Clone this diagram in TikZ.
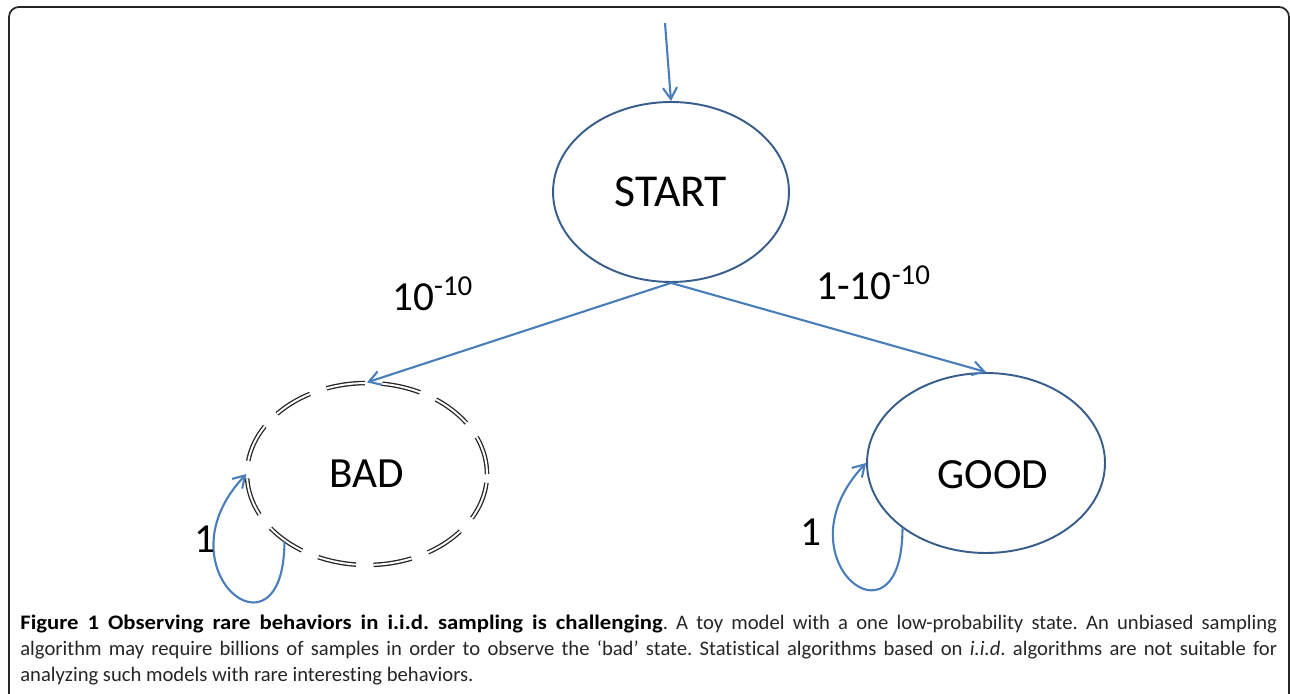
\documentclass[tikz,border=0pt]{standalone}
\usepackage{fontspec}
\setmainfont{Carlito}
\newfontfamily\capfont{Carlito}[Ligatures=NoCommon, BoldFeatures={FakeStretch=1.1}]
\usetikzlibrary{shapes.geometric, arrows.meta}
\definecolor{edgeblue}{HTML}{4A7EBB}
\definecolor{rimblue}{HTML}{385D8A}
\frenchspacing

\begin{document}
\begin{tikzpicture}[x=0.02cm, y=0.02cm,
    state/.style={ellipse, draw=rimblue, line width=1.1pt, inner sep=0pt,
        minimum width=4.72cm, minimum height=3.6cm, font=\fontsize{24.5}{28}\selectfont},
    badstate/.style={state, draw=black!85, line width=0.75pt, double, double distance=1.1pt,
        dash pattern=on 22pt off 10pt},
    arrow/.style={draw=edgeblue, line width=1.2pt, -{Straight Barb[length=6.5pt, width=8pt]}},
    problabel/.style={inner sep=0pt, font=\fontsize{23.5}{28}\selectfont},
    caption/.style={inner sep=0pt, text width=25.14cm, align=justify, text=black!85,
        font=\capfont\fontsize{11.75}{14.7}\selectfont}]
    \useasboundingbox (0, 0) rectangle (1290, 693);
    \draw[line width=1pt, black!85, rounded corners=0.2cm] (9, -20) rectangle (1289, 686);
    \node[state, font=\fontsize{26}{30}\selectfont] (start) at (671, 501) {START};
    \node[badstate, minimum width=4.8cm, minimum height=3.64cm] (bad) at (367, 219) {BAD};
    \node[state, minimum width=4.76cm] (good) at (986, 230) {};
    \node[problabel, font=\fontsize{24.5}{28}\selectfont] (goodtext) at (993, 218) {GOOD};
    \coordinate (entry) at (665, 670);
    \draw[arrow] (entry) -- (start.north);
    \draw[arrow] (start.south) -- (bad.north);
    \draw[arrow] (start.south) -- (good.north);
    \draw[arrow] (bad.219) .. controls +(0, -130) and +(-90, -95) .. (bad.west);
    \draw[arrow] (good.218) .. controls +(0, -130) and +(-90, -95) .. (good.west);
    \node[problabel, anchor=base west] (pbad) at (392, 382) {10\textsuperscript{-10}};
    \node[problabel, anchor=base west] (pgood) at (816, 393) {1-10\textsuperscript{-10}};
    \node[problabel, anchor=base] (stay1) at (205, 141) {1};
    \node[problabel, anchor=base] (stay2) at (811, 148) {1};
    \node[caption, anchor=north west] (cap) at (20, 78) {\textcolor{black}{\textbf{Figure 1 Observing rare behaviors in i.i.d. sampling is challenging}}. A toy model with a one low-probability state. An unbiased sampling\linebreak
        algorithm may require billions of samples in order to observe the ‘bad’ state. Statistical algorithms based on \textit{i.i.d}. algorithms are not suitable for\linebreak
        analyzing such models with rare interesting behaviors.};
\end{tikzpicture}
\end{document}
